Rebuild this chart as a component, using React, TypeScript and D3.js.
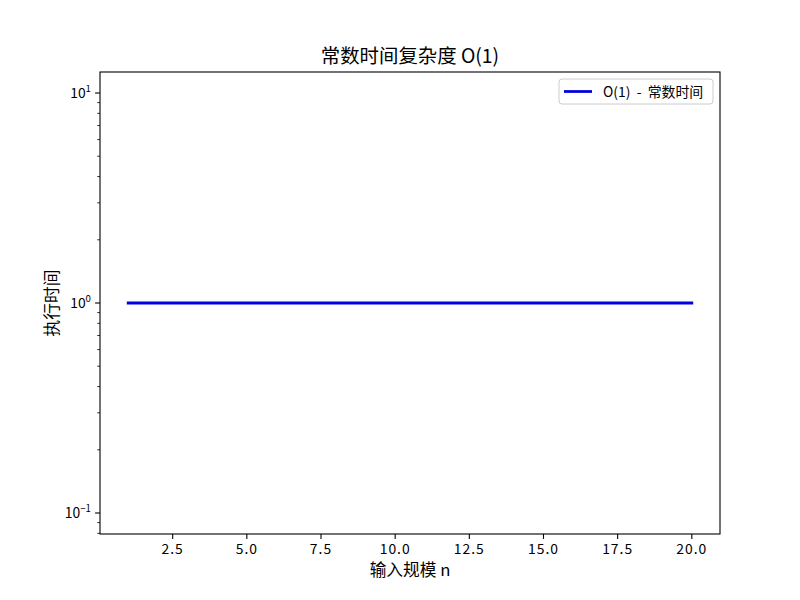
import * as d3 from "d3"

const sizes = [1, 2, 3, 4, 5, 6, 7, 8, 9, 10, 11, 12, 13, 14, 15, 16, 17, 18, 19, 20]
const times = [1, 1, 1, 1, 1, 1, 1, 1, 1, 1, 1, 1, 1, 1, 1, 1, 1, 1, 1, 1]
const xTicks = [2.5, 5.0, 7.5, 10.0, 12.5, 15.0, 17.5, 20.0]
const yMajor = [0.1, 1, 10]
const yExp = ["−1", "0", "1"]

const title = "常数时间复杂度 O(1)"
const xLabel = "输入规模 n"
const yLabel = "执行时间"
const seriesName = "O(1) - 常数时间"

const W = 800
const H = 600
const m = { left: 100, right: 80, top: 72, bottom: 66 }
const font = "'Noto Sans CJK SC', 'DejaVu Sans', sans-serif"
const blue = "#0000e0"

export default function App() {
  const x = d3
    .scaleLinear()
    .domain([0.05, 20.95])
    .range([m.left, W - m.right])
  const y = d3
    .scaleLog()
    .domain([Math.pow(10, -1.1), Math.pow(10, 1.1)])
    .range([H - m.bottom, m.top])

  const [y0, y1] = y.domain()
  const minor = y.ticks().filter((t) => !yMajor.some((v) => Math.abs(v - t) < 1e-9) && t >= y0 && t <= y1)

  const line = d3
    .line<number>()
    .x((_, i) => x(sizes[i]))
    .y((d) => y(d))

  const bottom = H - m.bottom
  const right = W - m.right

  return (
    <svg
      width={W}
      height={H}
      viewBox={`0 0 ${W} ${H}`}
      style={{ position: "fixed", left: 0, top: 0, background: "#fff" }}
      fontFamily={font}
    >
      <rect x={0} y={0} width={W} height={H} fill="#fff" />

      <path d={line(times) ?? ""} fill="none" stroke={blue} strokeWidth={2.78} strokeLinecap="square" />

      {/* x ticks */}
      {xTicks.map((t) => (
        <g key={t} transform={`translate(${x(t)},${bottom})`}>
          <line y2={4.9} stroke="#000" strokeWidth={1.1} />
          <text y={20} textAnchor="middle" fontSize={13.9} letterSpacing={1} fill="#000">
            {t.toFixed(1)}
          </text>
        </g>
      ))}

      {/* y ticks */}
      {yMajor.map((t, i) => (
        <g key={t} transform={`translate(${m.left},${y(t)})`}>
          <line x2={-4.9} stroke="#000" strokeWidth={1.1} />
          <text x={-9} y={5} textAnchor="end" fontSize={13.9} fill="#000">
            10
            <tspan fontSize={9.7} dy={-6}>
              {yExp[i]}
            </tspan>
          </text>
        </g>
      ))}
      {minor.map((t) => (
        <line
          key={t}
          x1={m.left}
          x2={m.left - 2.8}
          y1={y(t)}
          y2={y(t)}
          stroke="#000"
          strokeWidth={0.8}
        />
      ))}

      <rect
        x={m.left}
        y={m.top}
        width={right - m.left}
        height={bottom - m.top}
        fill="none"
        stroke="#000"
        strokeWidth={1.1}
      />

      <text x={(m.left + right) / 2} y={63} textAnchor="middle" fontSize={19.4} fill="#000">
        {title}
      </text>
      <text x={(m.left + right) / 2} y={576} textAnchor="middle" fontSize={16.7} fill="#000">
        {xLabel}
      </text>
      <text
        transform={`translate(58,${(m.top + bottom) / 2}) rotate(-90)`}
        textAnchor="middle"
        fontSize={16.7}
        fill="#000"
      >
        {yLabel}
      </text>

      {/* legend */}
      <g transform="translate(559,79)">
        <rect width={154} height={25} rx={3} fill="#fff" fillOpacity={0.8} stroke="#ccc" strokeWidth={1} />
        <line x1={5} x2={33} y1={12.5} y2={12.5} stroke={blue} strokeWidth={2.78} />
        <text x={44} y={17.5} fontSize={13.9} fill="#000" style={{ whiteSpace: "pre" }}>
          {seriesName.replace(" - ", "  -  ")}
        </text>
      </g>
    </svg>
  )
}
